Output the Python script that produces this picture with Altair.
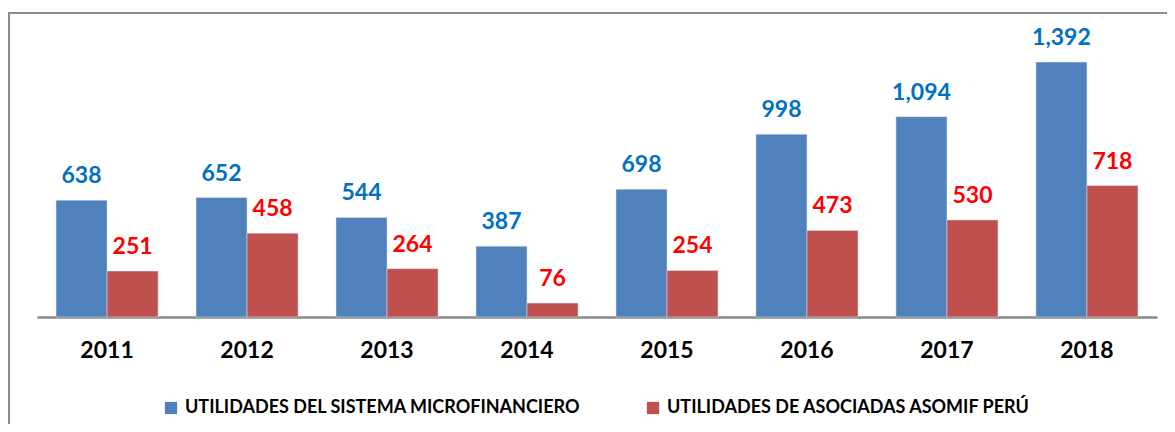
import altair as alt
import pandas as pd

years = ["2011", "2012", "2013", "2014", "2015", "2016", "2017", "2018"]
sistema = [638, 652, 544, 387, 698, 998, 1094, 1392]
asomif = [251, 458, 264, 76, 254, 473, 530, 718]
series_names = ["UTILIDADES DEL SISTEMA MICROFINANCIERO", "UTILIDADES DE ASOCIADAS ASOMIF PERÚ"]
bar_colors = ["#4F81BD", "#C0504D"]
label_colors = ["#0070C0", "#FF0000"]

rows = []
for i, y in enumerate(years):
    rows.append({"year": y, "serie": series_names[0], "valor": sistema[i], "lc": label_colors[0]})
    rows.append({"year": y, "serie": series_names[1], "valor": asomif[i], "lc": label_colors[1]})
df = pd.DataFrame(rows)

FONT = "Lato"

x_enc = alt.X("year:N", sort=years,
              scale=alt.Scale(paddingInner=0.271, paddingOuter=0.136),
              axis=alt.Axis(title=None, labelAngle=0, labelFont=FONT, labelFontSize=23,
                            labelFontWeight="bold", labelColor="#000000", labelPadding=22,
                            ticks=False, domainColor="#898989", domainWidth=2.5, grid=False))
xo = alt.XOffset("serie:N", sort=series_names, scale=alt.Scale(paddingInner=0, paddingOuter=0))
y_enc = alt.Y("valor:Q", scale=alt.Scale(domain=[0, 1600]), axis=None)

bars = alt.Chart(df).mark_bar(stroke="#dde6f0", strokeWidth=0.5).encode(
    x=x_enc, xOffset=xo, y=y_enc,
    color=alt.Color("serie:N", sort=series_names,
                    scale=alt.Scale(domain=series_names, range=bar_colors),
                    legend=alt.Legend(title=None, orient="none", direction="horizontal",
                                      legendX=125, legendY=375, symbolType="square",
                                      symbolSize=150, symbolStrokeWidth=0, labelFont=FONT,
                                      labelFontSize=18, labelFontWeight="bold",
                                      labelColor="#000000", columnPadding=63, labelOffset=5,
                                      labelLimit=700)),
)

labels = alt.Chart(df).mark_text(font=FONT, fontSize=23, fontWeight="bold",
                                 baseline="alphabetic", dy=-17).encode(
    x=alt.X("year:N", sort=years), xOffset=xo, y=y_enc,
    text=alt.Text("valor:Q", format=","),
    color=alt.Color("lc:N", scale=None, legend=None),
)

frame = alt.Chart(pd.DataFrame({"k": [0]})).mark_rect(
    fill="transparent", stroke="#8c8c8c", strokeWidth=2, clip=False
).encode(x=alt.value(-28), x2=alt.value(1200), y=alt.value(-11), y2=alt.value(430))

chart = alt.layer(frame, bars, labels).properties(
    width=1120, height=293,
    padding={"left": 29, "top": 16, "right": 10, "bottom": 107},
    autosize=alt.AutoSizeParams(type="none"),
).configure(background="#ffffff").configure_view(stroke="transparent", strokeWidth=0)

chart.save("out.html", embed_options={"renderer": "svg", "actions": False})
